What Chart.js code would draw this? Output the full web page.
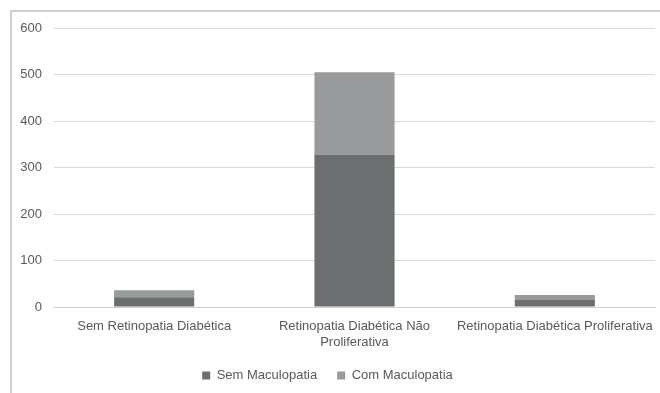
<!DOCTYPE html>
<html>
<head>
<meta charset="utf-8">
<script src="https://cdn.jsdelivr.net/npm/chart.js@4/dist/chart.umd.min.js"></script>
<style>
  body { margin: 0; background: #fff; }
  #frame {
    position: absolute; left: 10px; top: 10px; width: 660px; height: 393px;
    border-left: 2px solid #cfcfcf; border-top: 2px solid #cfcfcf;
  }
  #wrap { position: absolute; left: 0; top: 0; width: 660px; height: 393px; }
</style>
</head>
<body>
<div id="frame"></div>
<div id="wrap"><canvas id="chart"></canvas></div>
<script>
// categories and values
const categories = [
  'Sem Retinopatia Diabética',
  ['Retinopatia Diabética Não', 'Proliferativa'],
  'Retinopatia Diabética Proliferativa'
];
const semMaculopatia = [21, 328, 15];
const comMaculopatia = [15, 177, 11];
const yTicks = [0, 100, 200, 300, 400, 500, 600];

const textColor = '#595959';
Chart.defaults.font.family = '"Liberation Sans", Arial, sans-serif';
Chart.defaults.font.size = 13;
Chart.defaults.color = textColor;

const ctx = document.getElementById('chart').getContext('2d');
new Chart(ctx, {
  type: 'bar',
  data: {
    labels: categories,
    datasets: [
      { label: 'Sem Maculopatia', data: semMaculopatia, backgroundColor: '#6c6f70' },
      { label: 'Com Maculopatia', data: comMaculopatia, backgroundColor: '#989a9b' }
    ]
  },
  options: {
    responsive: true,
    maintainAspectRatio: false,
    animation: false,
    datasets: { bar: { categoryPercentage: 1, barPercentage: 0.4 } },
    layout: { padding: { top: 28, right: 5, bottom: 1, left: 0 } },
    scales: {
      x: {
        stacked: true,
        grid: { display: false },
        border: { color: '#d0d0d0' },
        afterFit: (axis) => { axis.height = 42; },
        ticks: { padding: 4, maxRotation: 0, autoSkip: false }
      },
      y: {
        stacked: true,
        min: 0,
        max: 600,
        afterBuildTicks: (axis) => { axis.ticks = yTicks.map(v => ({ value: v })); },
        afterFit: (axis) => { axis.width = 54; },
        grid: { color: '#d9d9d9', drawTicks: false },
        border: { display: false },
        ticks: { padding: 12 }
      }
    },
    plugins: {
      legend: {
        position: 'bottom',
        labels: { boxWidth: 8, boxHeight: 8, padding: 20, color: textColor }
      },
      tooltip: { enabled: false }
    }
  }
});
</script>
</body>
</html>
